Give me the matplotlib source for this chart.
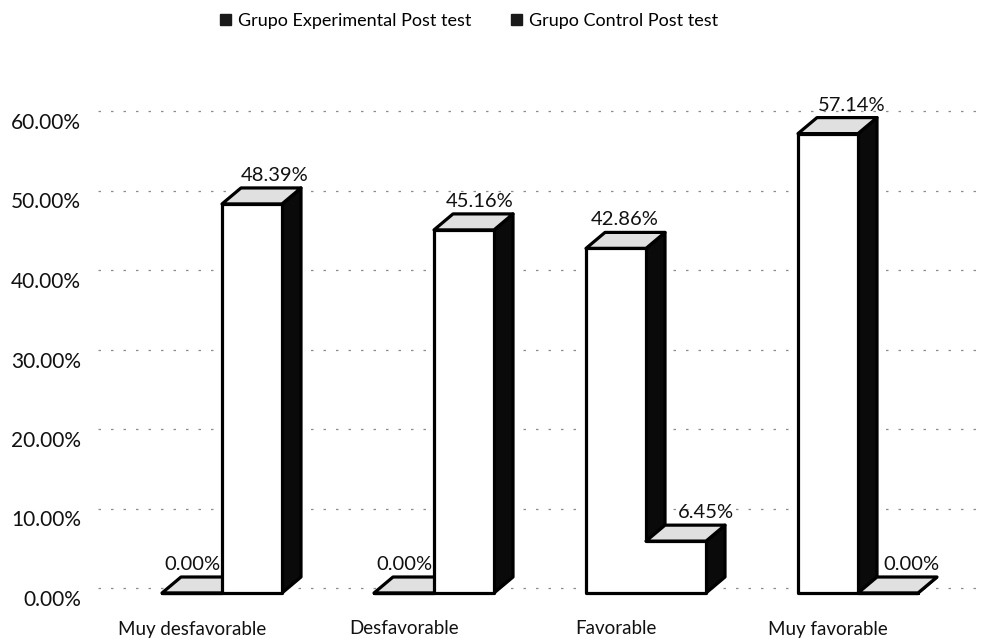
import matplotlib
matplotlib.use("Agg")
import matplotlib.pyplot as plt
from matplotlib.patches import Polygon, Patch

plt.rcParams['font.family'] = ['Lato', 'DejaVu Sans']

categories = ["Muy desfavorable", "Desfavorable", "Favorable", "Muy favorable"]
series_names = ["Grupo Experimental Post test", "Grupo Control Post test"]
exp_values = [0.0, 0.0, 42.86, 57.14]
ctrl_values = [48.39, 45.16, 6.45, 0.0]
tick_values = [0, 10, 20, 30, 40, 50, 60]

# label horizontal nudges (pixels) relative to the bar's back-top centre
exp_label_shift = [-19, -19, -10, 5]
ctrl_label_shift = [4, -3, 11, 4]

W, H = 988, 639
fig = plt.figure(figsize=(W / 100, H / 100), dpi=100)

# ---- wall axes: value ticks + gridlines (pixel-calibrated) ----
axw = fig.add_axes([0, 0, 1, 1])
tick_px0, tick_scale = 600, 7.95
axw.set_xlim(0, W)
axw.set_ylim((tick_px0 - H) / tick_scale, tick_px0 / tick_scale)
axw.axis('off')
for t in tick_values:
    axw.text(81, t, f"{t:.2f}%", ha='right', va='center', fontsize=15, color='#111111')
    axw.plot([98, 985], [t + 1.5, t + 1.5], color='0.55', lw=0.9,
             linestyle=(0, (2, 8)), zorder=0)

# ---- bar axes ----
ax = fig.add_axes([0, 0, 1, 1])
ax.patch.set_alpha(0)
px_per_x, x_px0 = 212, 222
floor_px, bar_scale = 593, 8.04
ax.set_xlim(-x_px0 / px_per_x, (W - x_px0) / px_per_x)
ax.set_ylim((floor_px - H) / bar_scale, floor_px / bar_scale)
ax.axis('off')

w = 60 / px_per_x
dx = 19 / px_per_x
dy = 16 / bar_scale
lw = 2.3
top_col = '#e0e0e0'

def draw_depth(x0, v, z):
    x1 = x0 + w
    side = Polygon([(x1, 0), (x1 + dx, dy), (x1 + dx, v + dy), (x1, v)],
                   closed=True, facecolor='#0a0a0a', edgecolor='black', lw=lw,
                   joinstyle='round', zorder=z)
    top = Polygon([(x0, v), (x0 + dx, v + dy), (x1 + dx, v + dy), (x1, v)],
                  closed=True, facecolor=top_col, edgecolor='black', lw=lw,
                  joinstyle='round', zorder=z + 0.1)
    front = Polygon([(x0, 0), (x0, v), (x1, v), (x1, 0)], closed=True,
                    facecolor='white', edgecolor='none', zorder=z + 0.2)
    for p in (side, top, front):
        ax.add_patch(p)

for i in range(len(categories)):
    xe = i - w
    xc = i
    ve, vc = exp_values[i], ctrl_values[i]
    draw_depth(xe, ve, 2 + i)
    draw_depth(xc, vc, 2.4 + i)
    outline = Polygon([(xe, 0), (xe, ve), (xc, ve), (xc, vc), (xc + w, vc), (xc + w, 0)],
                      closed=True, facecolor='none', edgecolor='black', lw=lw,
                      joinstyle='round', zorder=2.8 + i)
    ax.add_patch(outline)
    for x0, v, sh in ((xe, ve, exp_label_shift[i]), (xc, vc, ctrl_label_shift[i])):
        ax.text(x0 + dx + w / 2 + sh / px_per_x, v + dy + 0.5, f"{v:.2f}%",
                ha='center', va='bottom', fontsize=14.5, color='#111111', zorder=20)
    ax.text(i - w / 2, (floor_px - 629) / bar_scale, categories[i],
            ha='center', va='center', fontsize=13.5, color='#111111')

handles = [Patch(facecolor='#1a1a1a', edgecolor='#1a1a1a'),
           Patch(facecolor='#1a1a1a', edgecolor='#1a1a1a')]
fig.legend(handles, series_names, loc='center', bbox_to_anchor=(0.475, 1 - 21 / H),
           ncol=2, frameon=False, fontsize=13, handlelength=0.6, handleheight=0.6,
           handletextpad=0.4, columnspacing=2.2)

fig.savefig("out.png", dpi=100)
